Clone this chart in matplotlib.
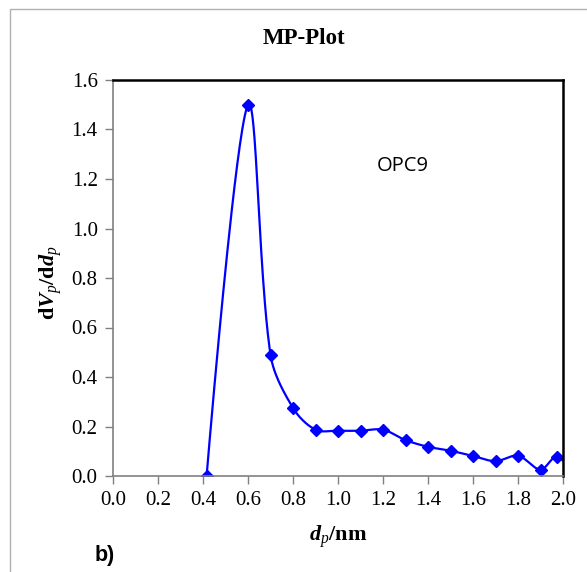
import matplotlib.pyplot as plt
import numpy as np
from matplotlib.patches import Rectangle

plt.rcParams['mathtext.fontset'] = 'custom'
plt.rcParams['mathtext.rm'] = 'Liberation Serif'
plt.rcParams['mathtext.it'] = 'Liberation Serif:italic'
plt.rcParams['mathtext.bf'] = 'Liberation Serif:bold'
plt.rcParams['mathtext.bfit'] = 'Liberation Serif:italic:bold'

# pore size distribution (MP method)
dp = [0.416, 0.6, 0.7, 0.8, 0.9, 1.0, 1.1, 1.2, 1.3, 1.4, 1.5, 1.6, 1.7, 1.8, 1.9, 1.972, 2.06]
dv = [0.0, 1.50, 0.49, 0.275, 0.187, 0.183, 0.183, 0.187, 0.145, 0.118, 0.102, 0.081, 0.060, 0.082, 0.026, 0.077, 0.0]
xticks = np.arange(0, 2.01, 0.2)
yticks = np.arange(0, 1.61, 0.2)
blue = '#0000ff'


def smooth_line(x, y, sx=225.0, sy=247.5, n=40):
    # bezier smoothing, tangents scaled by neighbouring segment lengths
    P = np.column_stack([np.asarray(x, float) * sx, np.asarray(y, float) * sy])
    P = np.vstack([P[0], P, P[-1]])
    t = np.linspace(0, 1, n)[:, None]
    out = []
    for i in range(1, len(P) - 2):
        p0, p3 = P[i], P[i + 1]
        d01 = np.linalg.norm(P[i] - P[i - 1]); d12 = np.linalg.norm(P[i + 1] - P[i])
        d23 = np.linalg.norm(P[i + 2] - P[i + 1])
        f1 = d12 / (d01 + d12) / 3 if d01 > 0 else 0.0
        f2 = d12 / (d12 + d23) / 3 if d23 > 0 else 0.0
        p1 = p0 + (P[i + 1] - P[i - 1]) * f1
        p2 = p3 - (P[i + 2] - P[i]) * f2
        b = (1 - t) ** 3 * p0 + 3 * (1 - t) ** 2 * t * p1 + 3 * (1 - t) * t ** 2 * p2 + t ** 3 * p3
        out.append(b)
    out = np.vstack(out)
    return out[:, 0] / sx, out[:, 1] / sy


fig = plt.figure(figsize=(5.87, 5.72), dpi=100)
ax = fig.add_axes([113 / 587, 1 - 476 / 572, 450 / 587, 396 / 572])

cx, cy = smooth_line(dp, dv)
ax.plot(cx, cy, color=blue, lw=1.6)
ax.plot(dp, dv, 'D', color=blue, ms=6, lw=0)

ax.set_xlim(0, 2.0)
ax.set_ylim(0, 1.6)
ax.set_xticks(xticks)
ax.set_yticks(yticks)
ax.set_xticklabels(['%.1f' % v for v in xticks], fontfamily='Liberation Serif', fontsize=15)
ax.set_yticklabels(['%.1f' % v for v in yticks], fontfamily='Liberation Serif', fontsize=15)
ax.tick_params(direction='out', length=6, width=1, color='#808080', pad=5)

for s in ['left', 'bottom']:
    ax.spines[s].set_color('#808080')
    ax.spines[s].set_linewidth(1.2)
for s in ['top', 'right']:
    ax.spines[s].set_color('black')
    ax.spines[s].set_linewidth(1.8)

ax.text(0.587, 0.783, 'OPC9', transform=ax.transAxes, fontsize=14.5,
        fontfamily='Open Sans', ha='left', va='center')

fig.text(304 / 587, 1 - 39 / 572, 'MP-Plot', ha='center', va='center',
         fontfamily='Liberation Serif', fontweight='bold', fontsize=16.5)
fig.text(51 / 587, 1 - 283 / 572, r'$\mathbf{d}\mathbfit{V}_{\mathit{p}}\mathbf{/d}\mathbfit{d}_{\mathit{p}}$',
         rotation=90, ha='center', va='center', fontsize=16)
fig.text(338 / 587, 1 - 537 / 572, r'$\mathbfit{d}_{\mathit{p}}\mathbf{/nm}$',
         ha='center', va='center', fontsize=16)
fig.text(95 / 587, 1 - 555 / 572, 'b)', ha='left', va='center',
         fontfamily='Liberation Sans', fontweight='bold', fontsize=15.5)

fig.add_artist(Rectangle((10 / 587, -0.1), 1.2, 1 - 9 / 572 + 0.1, transform=fig.transFigure,
                         fill=False, edgecolor='#b0b0b0', lw=1))

fig.savefig('out.png', dpi=100)
